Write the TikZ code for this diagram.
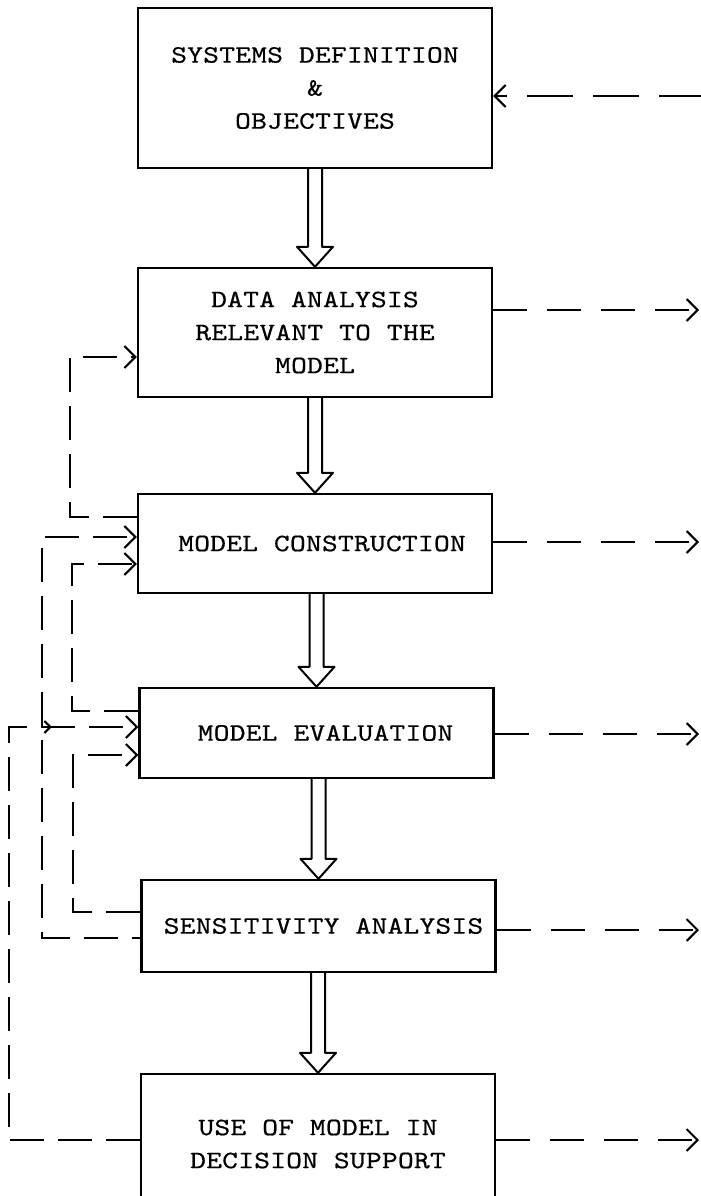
\documentclass[tikz,border=0pt]{standalone}
\usepackage{fontspec}
\usepackage{tikz}
\usetikzlibrary{arrows.meta,calc,decorations.markings}
\newfontfamily\typer[FakeStretch=1.2,FakeBold=0.6,LetterSpace=1]{lmmono10-regular.otf}

\newcommand{\bigarrow}[2]{%
\draw[hollow] ($(#1.south -| #2.north)+(-7,0)$) -- ($(#2.north)+(-7,20)$) -- ($(#2.north)+(-18,20)$) -- (#2.north) -- ($(#2.north)+(18,20)$) -- ($(#2.north)+(7,20)$) -- ($(#1.south -| #2.north)+(7,0)$);}

\begin{document}
\begin{tikzpicture}[x=1pt,y=1pt,
  box/.style={draw=black, line width=2.4pt, minimum width=354pt, inner sep=0pt, align=center,
    font=\typer\fontsize{25}{33}\selectfont},
  hollow/.style={black, line width=2pt, line join=round},
  feed/.style={black, line width=2pt, dash pattern=on 34pt off 14pt},
  outflow/.style={black, line width=2pt, dash pattern=on 34pt off 20pt},
  >={Straight Barb[length=11pt,width=22pt]}]
\useasboundingbox (0,0) rectangle (701,-1196);
\node[box, minimum height=160pt] (sys) at (315,-88) {SYSTEMS DEFINITION\\\&\\OBJECTIVES};
\node[box, minimum height=129pt] (data) at (315,-332.5) {DATA ANALYSIS\\RELEVANT TO THE\\MODEL};
\node[box, minimum height=99pt] (cons) at (315,-543.5) {\hspace*{14pt}MODEL CONSTRUCTION};
\node[box, minimum height=90pt] (eval) at (316.5,-733) {\hspace*{18pt}MODEL EVALUATION};
\node[box, minimum height=92pt] (sens) at (318.5,-926) {\hspace*{10pt}SENSITIVITY ANALYSIS};
\node[box, minimum height=140pt] (use) at (318,-1144) {USE OF MODEL IN\\DECISION SUPPORT};
\bigarrow{sys}{data}
\bigarrow{data}{cons}
\bigarrow{cons}{eval}
\bigarrow{eval}{sens}
\bigarrow{sens}{use}
\coordinate (back) at (705,-96);
\coordinate (out2) at (699,-310);
\coordinate (out3) at (699,-542);
\coordinate (out4) at (699,-734);
\coordinate (out5) at (699,-930);
\coordinate (out6) at (699,-1140);
\draw[outflow, dash pattern=on 46pt off 20pt, ->] (back) -- (sys.east |- back);
\draw[outflow, ->] (data.east |- out2) -- (out2);
\draw[outflow, ->] (cons.east |- out3) -- (out3);
\draw[outflow, ->] (eval.east |- out4) -- (out4);
\draw[outflow, ->] (sens.east |- out5) -- (out5);
\draw[outflow, ->] (use.east |- out6) -- (out6);
\draw[feed, ->] ([yshift=26.5pt]cons.west) -- ++(-67,0) |- ([yshift=-24.5pt]data.west);
\draw[feed, dash phase=25.5pt, ->] ([yshift=-12pt]sens.west) -- ++(-98.5,0) |- ([yshift=6.5pt]cons.west);
\draw[feed, ->] ([yshift=22pt]eval.west) -- ++(-66.5,0) |- ([yshift=-20.5pt]cons.west);
\draw[feed, ->] ([yshift=14pt]sens.west) -- ++(-67.5,0) |- ([yshift=-22pt]eval.west);
\draw[feed, ->, postaction={decorate}, decoration={markings,
  mark=at position 587pt with {\arrow{Straight Barb[length=6pt,width=12pt]}}}]
  ([yshift=4pt]use.west) -- ++(-131,0) |- ([yshift=6pt]eval.west);
\end{tikzpicture}
\end{document}
